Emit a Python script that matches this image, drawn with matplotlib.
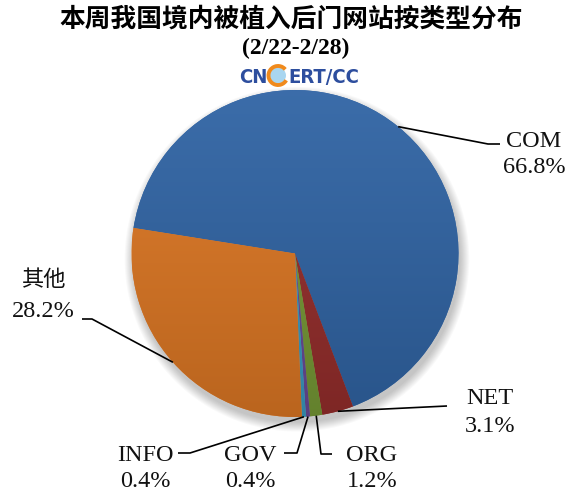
import numpy as np
import matplotlib
matplotlib.use("Agg")
import matplotlib.pyplot as plt
from matplotlib.patches import Circle, Arc
from matplotlib.colors import to_rgb

# ===============================
# Data
# ===============================
CATEGORIES = ["COM", "NET", "ORG", "GOV", "INFO", "其他"]
SHARES = [66.8, 3.1, 1.2, 0.4, 0.4, 28.2]
PCT_LABELS = ["66.8%", "3.1%", "1.2%", "0.4%", "0.4%", "28.2%"]

COLORS = ["#3165A5", "#962E2C", "#779A36", "#6A4B98", "#3A9CC2", "#DE7824"]

TITLE = "本周我国境内被植入后门网站按类型分布"
SUBTITLE = "(2/22-2/28)"

# ===============================
# Layout (pixels of the 574x492 picture)
# ===============================
W, H = 574, 492
CX, CY, R = 295, 253.5, 163.5

# label anchor (x centre, baseline of name, baseline of percent)
LABEL_POS = {
    "COM": (534, 147, 173),
    "NET": (490, 404, 432),
    "ORG": (372, 461, 487),
    "GOV": (250, 461, 487),
    "INFO": (145, 461, 487),
    "其他": (43, 286, 317),
}
# leader line bends (pixels)
LEADERS = {
    "COM": [(488, 144), (500, 144)],
    "NET": [(447, 406)],
    "ORG": [(321, 454), (332, 454)],
    "GOV": [(297, 453), (284, 453)],
    "INFO": [(190, 453), (178, 453)],
    "其他": [(92, 319), (82, 319)],
}


def px(x, y):
    # pixel -> data coords (pie of radius 1 at origin)
    return (x - CX) / R, (CY - y) / R


def fig_xy(x, y):
    return x / W, 1 - y / H


fig = plt.figure(figsize=(W / 100, H / 100), dpi=100)
ax = fig.add_axes([0, 0, 1, 1])

# soft shadow under the pie
for i in range(10):
    ax.add_patch(Circle((0.012, -0.035), 1.0 + 0.006 * i, color="black",
                        alpha=0.025, lw=0, zorder=0))

wedges, _ = ax.pie(SHARES, colors=COLORS, startangle=171, counterclock=False,
                   radius=1, center=(0, 0), wedgeprops=dict(linewidth=0))

# vertical gradient in every wedge (lighter top, darker bottom)
for w, c in zip(wedges, COLORS):
    base = np.array(to_rgb(c))
    top = base + (1 - base) * 0.05
    bot = base * 0.84
    t = np.linspace(0, 1, 256)[:, None, None]
    img = top * (1 - t) + bot * t
    img = np.repeat(img, 2, axis=1)
    im = ax.imshow(img, extent=(-1, 1, -1, 1), origin="upper",
                   interpolation="bilinear", zorder=2, aspect="auto")
    im.set_clip_path(w)

ax.set_xlim(-CX / R, (W - CX) / R)
ax.set_ylim(-(H - CY) / R, CY / R)
ax.set_aspect("auto")
ax.axis("off")

# leader lines + labels
serif = "Liberation Serif"
for w, cat, pct in zip(wedges, CATEGORIES, PCT_LABELS):
    ang = np.deg2rad((w.theta1 + w.theta2) / 2)
    pts = [(np.cos(ang), np.sin(ang))] + [px(*p) for p in LEADERS[cat]]
    xs, ys = zip(*pts)
    ax.plot(xs, ys, color="black", lw=1.2, zorder=5, solid_capstyle="butt")

    x, yb1, yb2 = LABEL_POS[cat]
    fam = ["Noto Sans CJK SC"] if cat == "其他" else [serif]
    fsz = 16 if cat == "其他" else 17.5
    fig.text(*fig_xy(x, yb1), cat, ha="center", va="baseline",
             family=fam, fontsize=fsz, color="#111111")
    fig.text(*fig_xy(x, yb2), pct, ha="center", va="baseline",
             family=serif, fontsize=17.5, color="#111111")

# titles
fig.text(*fig_xy(291, 27), TITLE, ha="center", va="baseline",
         family=["Noto Sans CJK SC"], fontsize=18.5, fontweight="bold")
fig.text(*fig_xy(296, 54), SUBTITLE, ha="center", va="baseline",
         family=[serif], fontsize=17, fontweight="bold")

# CNCERT/CC logo
logo_font = ["DejaVu Sans"]
logo_col = "#2D4E9E"
fig.text(*fig_xy(268, 83), "CN", ha="right", va="baseline", family=logo_font,
         fontsize=14.5, fontweight="bold", fontstretch="condensed", color=logo_col)
fig.text(*fig_xy(288.5, 83), "ERT/CC", ha="left", va="baseline", family=logo_font,
         fontsize=14.5, fontweight="bold", fontstretch="condensed", color=logo_col)
gx, gy = px(278, 75.5)
ax.add_patch(Circle((gx, gy), 8 / R, facecolor="#A9D6F0", edgecolor="none",
                    zorder=6, clip_on=False))
ax.add_patch(Arc((gx, gy), 2 * 9.5 / R, 2 * 9.5 / R, theta1=40, theta2=330,
                 color="#F08A1C", lw=2.8, zorder=7, clip_on=False))

fig.savefig("out.png", dpi=100)
